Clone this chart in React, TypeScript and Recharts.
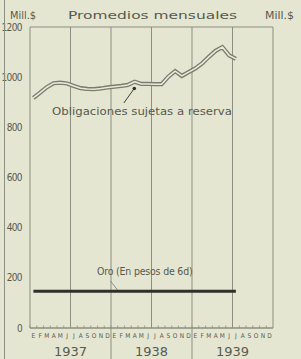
import { LineChart, Line, XAxis, YAxis, CartesianGrid, ReferenceLine, ReferenceDot } from 'recharts';

const months = ['E', 'F', 'M', 'A', 'M', 'J', 'J', 'A', 'S', 'O', 'N', 'D'];
const years = ['1937', '1938', '1939'];
const yTicks = [0, 200, 400, 600, 800, 1000, 1200];

// Obligaciones sujetas a reserva, Ene 1937 - Jul 1939 (mill. $)
const obligaciones = [
  917, 938, 960, 976, 978, 975, 965, 956, 953, 952, 955, 959,
  962, 965, 969, 982, 973, 973, 972, 972, 1002, 1024, 1005, 1020,
  1035, 1055, 1081, 1105, 1120, 1087, 1073,
];

// Oro (en pesos de 6d)
const oro = [
  147, 147, 147, 147, 147, 147, 147, 147, 147, 147, 147, 147,
  147, 147, 147, 147, 147, 147, 147, 147, 147, 147, 147, 147,
  147, 147, 147, 147, 147, 147, 147,
];

const data = obligaciones.map((v, i) => ({ x: i + 0.5, oblig: v, oro: oro[i] }));
const monthTicks = Array.from({ length: 36 }, (_, i) => i + 0.5);

const BG = '#e4e6d1';
const GRID = '#8d8f80';
const TEXT = '#585a4e';
const NARROW = "'DejaVu Sans Condensed', 'DejaVu Sans', sans-serif";
const LIGHT = "'DejaVu Sans ExtraLight', 'DejaVu Sans', sans-serif";
const MONTH_PX = 243 / 36;

function MonthTick(props: any) {
  const { x, y, index } = props;
  const m = months[index % 12];
  return (
    <g>
      <line x1={x - MONTH_PX / 2} y1={y} x2={x - MONTH_PX / 2} y2={y - 2.5} stroke={GRID} strokeWidth={0.8} />
      <text x={x} y={y + 10} textAnchor="middle" fontSize={6.5} fontFamily={NARROW} fill={TEXT}>
        {m}
      </text>
      {index % 12 === 5 && (
        <text x={x + MONTH_PX / 2} y={y + 28} textAnchor="middle" fontSize={13} fontFamily={LIGHT} fill={TEXT}>
          {years[Math.floor(index / 12)]}
        </text>
      )}
    </g>
  );
}

function ValueTick(props: any) {
  const { x, y, payload, anchor } = props;
  return (
    <text
      x={x}
      y={y + 3.5}
      textAnchor={anchor}
      fontSize={10}
      letterSpacing={-0.6}
      fontFamily={NARROW}
      fill={TEXT}
    >
      {payload.value}
    </text>
  );
}

export default function App() {
  return (
    <div style={{ position: 'absolute', left: 0, top: 0, width: 301, height: 359, background: BG, overflow: 'hidden' }}>
      <LineChart width={301} height={359} data={data} margin={{ top: 27, right: 0, left: 0, bottom: 0 }}>
        <CartesianGrid vertical={false} stroke={GRID} strokeWidth={1} />
        <XAxis
          dataKey="x"
          type="number"
          domain={[0, 36]}
          ticks={monthTicks}
          interval={0}
          height={31}
          tickSize={0}
          tickMargin={0}
          tickLine={false}
          axisLine={{ stroke: GRID, strokeWidth: 1.2 }}
          tick={<MonthTick />}
        />
        <YAxis
          yAxisId="left"
          domain={[0, 1200]}
          ticks={yTicks}
          width={30}
          tickLine={false}
          tickMargin={2}
          axisLine={{ stroke: GRID }}
          tick={<ValueTick anchor="end" />}
        />
        <YAxis
          yAxisId="right"
          orientation="right"
          domain={[0, 1200]}
          ticks={yTicks}
          width={28}
          tickLine={false}
          tickMargin={3}
          axisLine={{ stroke: GRID }}
          tick={<ValueTick anchor="start" />}
        />
        {[6, 18, 30].map((v) => (
          <ReferenceLine key={v} yAxisId="left" x={v} stroke={GRID} strokeWidth={1} />
        ))}
        {[12, 24].map((v) => (
          <ReferenceLine
            key={v}
            yAxisId="left"
            segment={[{ x: v, y: 1200 }, { x: v, y: -130 }]}
            ifOverflow="visible"
            stroke={GRID}
            strokeWidth={1}
          />
        ))}
        <ReferenceLine
          yAxisId="left"
          segment={[{ x: 13.9, y: 897 }, { x: 15.5, y: 957 }]}
          stroke="#3d3f36"
          strokeWidth={1}
        />
        <ReferenceDot yAxisId="left" x={15.45} y={955} r={1.8} fill="#2d2f28" stroke="none" />
        <ReferenceLine
          yAxisId="left"
          segment={[{ x: 11.9, y: 188 }, { x: 13.1, y: 147 }]}
          stroke={GRID}
          strokeWidth={1}
        />
        <Line
          yAxisId="left"
          dataKey="oro"
          type="linear"
          stroke="#2e3029"
          strokeWidth={3}
          dot={false}
          isAnimationActive={false}
        />
        <Line
          yAxisId="left"
          dataKey="oblig"
          type="linear"
          stroke="#7a7c6d"
          strokeWidth={4.2}
          dot={false}
          isAnimationActive={false}
        />
        <Line
          yAxisId="left"
          dataKey="oblig"
          type="linear"
          stroke="#e8eadb"
          strokeWidth={1.6}
          dot={false}
          isAnimationActive={false}
        />
      </LineChart>
      <svg width={301} height={359} style={{ position: 'absolute', left: 0, top: 0, pointerEvents: 'none' }}>
        <line x1={4.5} y1={0} x2={4.5} y2={359} stroke={GRID} strokeWidth={1} />
        <text x={10} y={19} fontSize={10} fontFamily={NARROW} fill={TEXT} textLength={26} lengthAdjust="spacingAndGlyphs">
          Mill.$
        </text>
        <text x={68} y={19} fontSize={11} fontFamily={LIGHT} fill={TEXT} textLength={169} lengthAdjust="spacingAndGlyphs">
          Promedios mensuales
        </text>
        <text x={265} y={19} fontSize={10} fontFamily={NARROW} fill={TEXT} textLength={29} lengthAdjust="spacingAndGlyphs">
          Mill.$
        </text>
        <text x={52} y={115} fontSize={11} fontFamily={LIGHT} fill={TEXT} textLength={180} lengthAdjust="spacingAndGlyphs">
          Obligaciones sujetas a reserva
        </text>
        <text x={97} y={275} fontSize={10.5} fontFamily={NARROW} fill={TEXT} letterSpacing={-0.2}>
          Oro (En pesos de 6d)
        </text>
      </svg>
    </div>
  );
}
